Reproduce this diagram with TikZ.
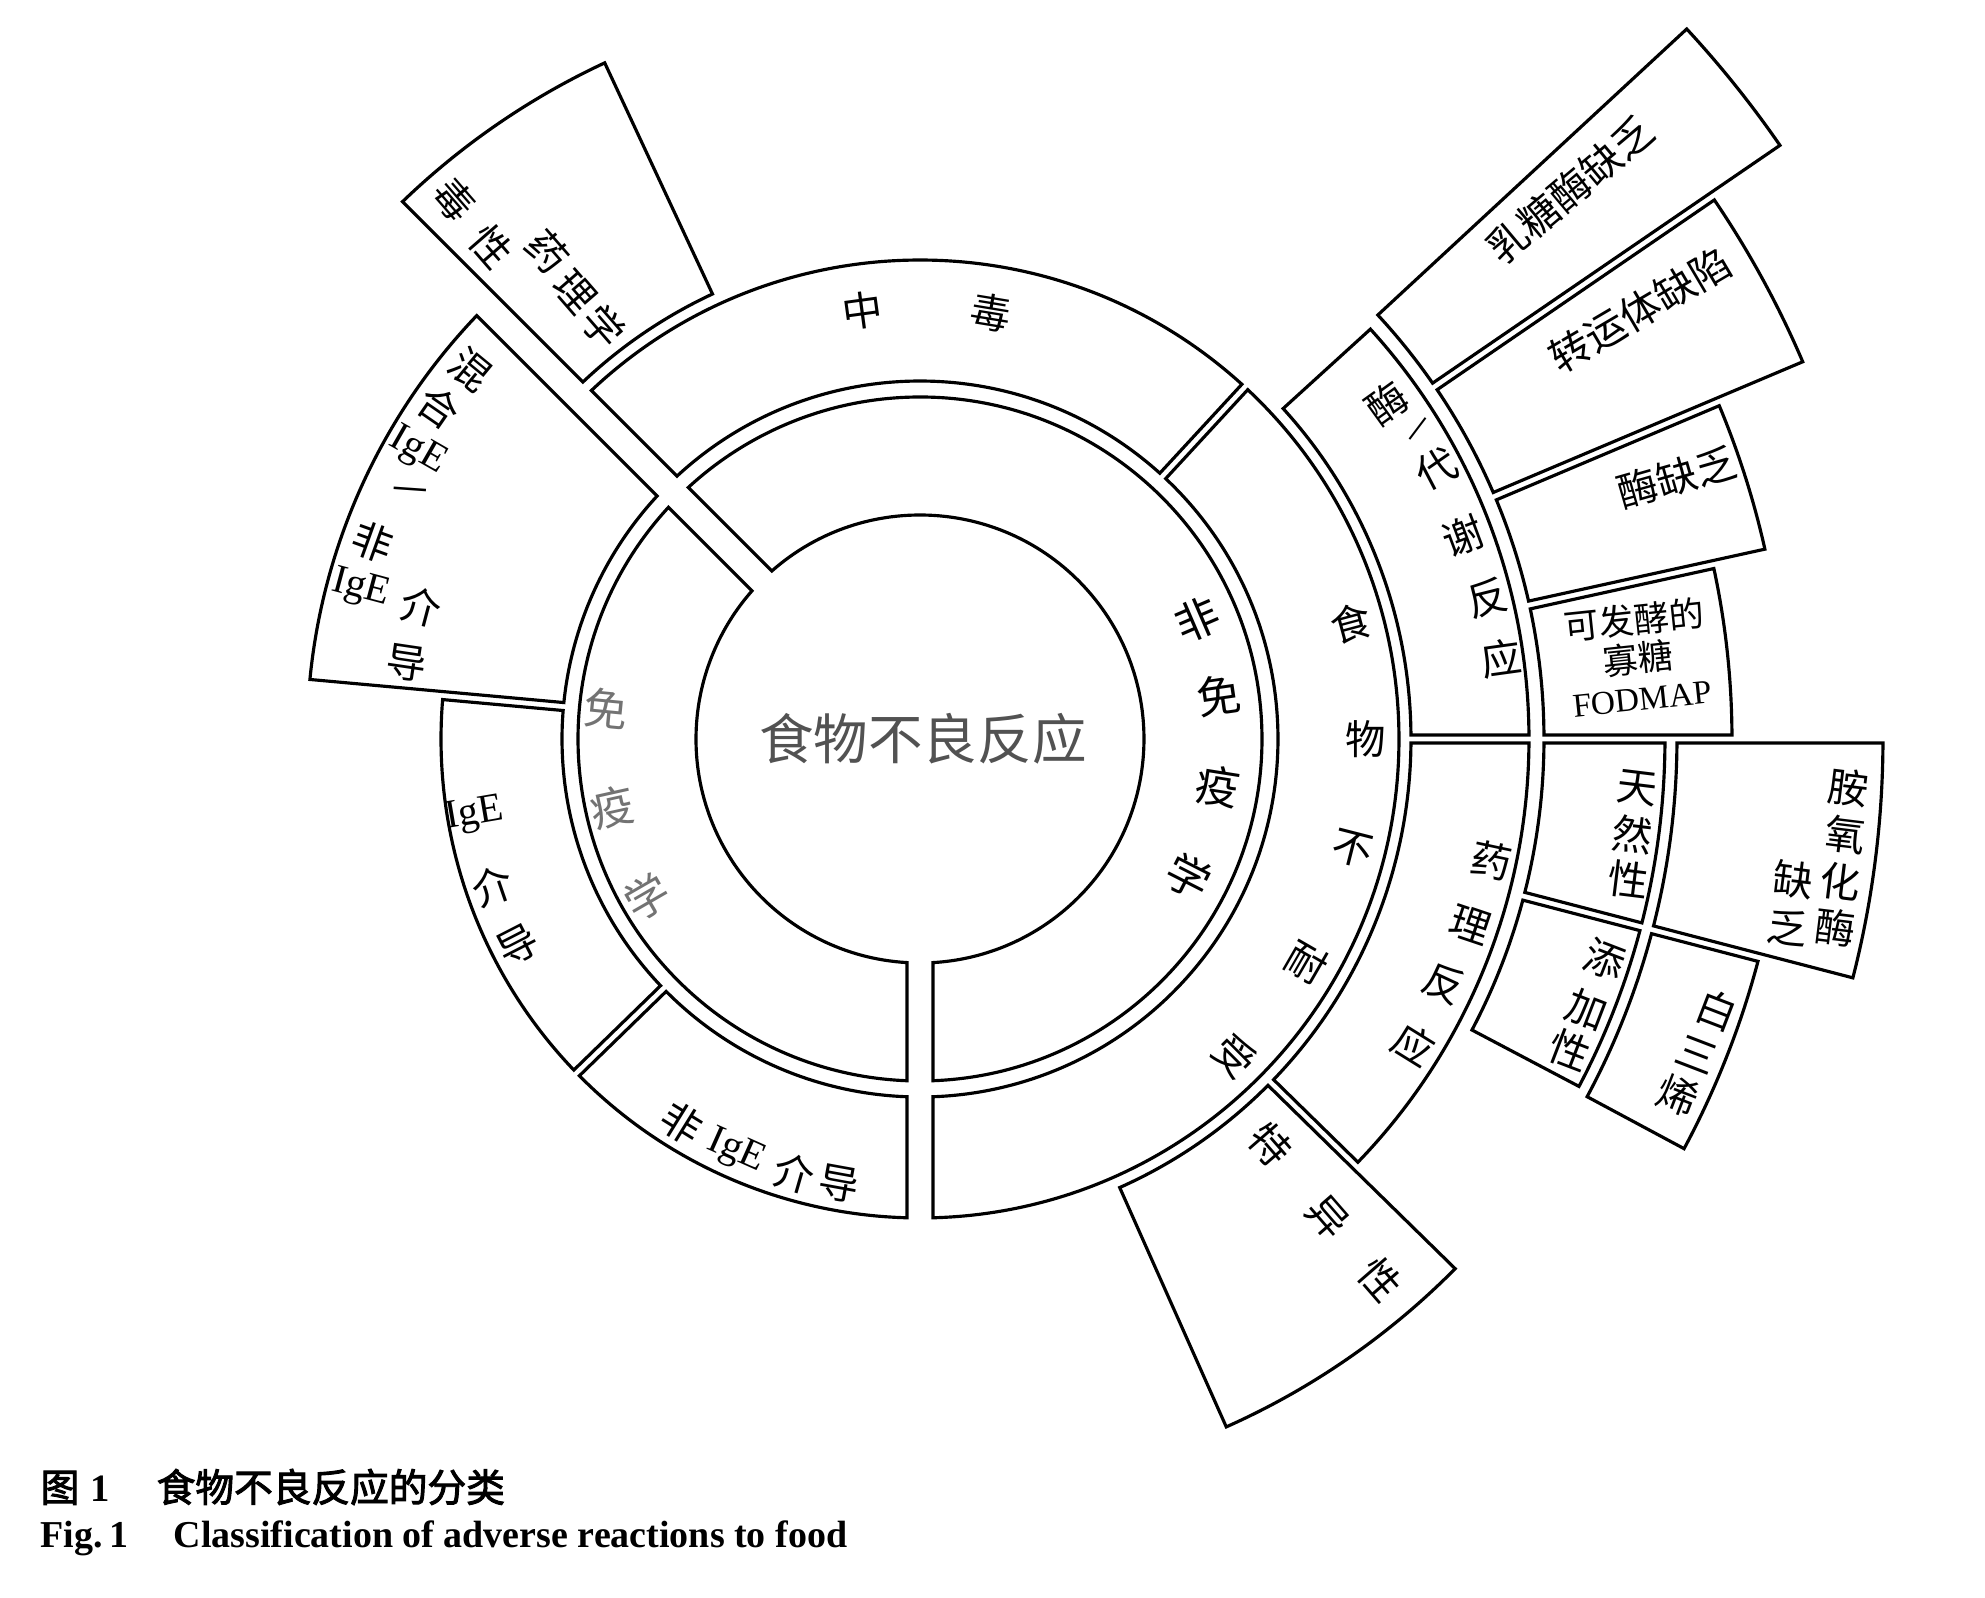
\documentclass[tikz,border=0pt]{standalone}
\usepackage{fontspec}
\setmainfont{Liberation Serif}
\newfontfamily\cjk{Noto Sans CJK SC}
\newfontfamily\cjkbold[AutoFakeBold=2.5]{Noto Sans CJK SC}

% ring segment: r_in, r_out, start angle, end angle, half gap at start, half gap at end
\newcommand{\ringseg}[6]{%
  \pgfmathsetmacro{\segA}{#3+asin(#5/#1)}%
  \pgfmathsetmacro{\segB}{#3+asin(#5/#2)}%
  \pgfmathsetmacro{\segC}{#4-asin(#6/#2)}%
  \pgfmathsetmacro{\segD}{#4-asin(#6/#1)}%
  \draw[seg] (\segA:#1) -- (\segB:#2) arc[start angle=\segB, end angle=\segC, radius=#2]
    -- (\segD:#1) arc[start angle=\segD, end angle=\segA, radius=#1] -- cycle;}

\begin{document}
\begin{tikzpicture}[x=0.01cm, y=0.01cm,
    seg/.style={draw=black, line width=0.9pt},
    lbl/.style={font=\cjk\fontsize{11.5}{13}\selectfont, inner sep=0pt},
    biglbl/.style={font=\cjk\fontsize{12.5}{14}\selectfont, inner sep=0pt}]
        \useasboundingbox (-920,-859) rectangle (1065,739);
        % Ring 1
        \ringseg{224}{342}{135}{270}{14}{13}
        \ringseg{224}{342}{-90}{135}{13}{14}
        % Ring 2
        \ringseg{358}{613}{135}{174.8}{14}{4}
        \ringseg{358}{479}{174.8}{224.2}{4}{4}
        \ringseg{358}{479}{224.2}{270}{4}{13}
        \ringseg{358}{479}{-90}{47.3}{13}{4}
        \ringseg{358}{479}{47.3}{135}{4}{14}
        % Ring 3
        \ringseg{491}{746}{115}{135}{0}{14}
        \ringseg{491}{609}{0}{42.3}{4}{0}
        \ringseg{491}{609}{-44.4}{0}{4}{4}
        \ringseg{491}{753}{-66}{-44.4}{0}{4}
        % Ring 4
        \ringseg{624}{812}{0}{12.4}{4}{4}
        \ringseg{624}{866}{12.4}{22.9}{4}{4}
        \ringseg{624}{960}{22.9}{34.4}{4}{4}
        \ringseg{624}{1045}{34.4}{42.8}{4}{0}
        \ringseg{624}{745}{-14.6}{0}{4}{4}
        \ringseg{624}{745}{-27.8}{-14.6}{0}{4}
        % Ring 5
        \ringseg{757}{963}{-14.6}{0}{4}{4}
        \ringseg{757}{867}{-28.2}{-14.6}{0}{4}
        % Labels
        \node [font=\cjk\fontsize{15.5}{18}\selectfont, text=black!68] (root) at (3,0) {食物不良反应};
        \foreach \c/\a [count=\i] in {免/174.5, 疫/192.5, 学/210}
                \node [biglbl, text=black!55, rotate=\a-180] (imm\i) at (\a:315) {\c};
        \foreach \c/\a [count=\i] in {非/23.3, 免/8.3, 疫/-9, 学/-27}
                \node [biglbl, rotate=\a] (nonimm\i) at (\a:302) {\c};
        \foreach \c/\a [count=\i] in {中/97.7, 毒/80.6}
                \node [lbl, rotate=\a-90] (poison\i) at (\a:432) {\c};
        \foreach \c/\a [count=\i] in {食/15, 物/0, 不/-14.3, 耐/-30, 受/-45.2}
                \node [lbl, rotate=\a] (intol\i) at (\a:446) {\c};
        \foreach \c/\a [count=\i] in {非/238.2, {\rmfamily IgE}/246, 介/253.9, 导/259.7}
                \node [lbl, rotate=\a+90] (nonige\i) at (\a:452) {\c};
        \foreach \c/\a [count=\i] in {{\rmfamily IgE}/189.7, 介/199, 导/207.2}
                \node [lbl, rotate=\a-180] (ige\i) at (\a:452) {\c};
        \foreach \c/\a/\r [count=\i] in {混/140.6/581, 合/145.4/584, {\rmfamily IgE}/150.2/579,
                非/160.2/582, {\rmfamily IgE}/165/579, 介/165.2/516, 导/171.6/519}
                \node [lbl, rotate=\a-180] (mixed\i) at (\a:\r) {\c};
        \node [lbl, rotate=-4] (mixeddash) at (154.4:566) {—};
        \foreach \c/\a/\r [count=\i] in {酶/35.7/575, 代/27.6/583, 谢/20.5/580, 反/14/585, 应/7.9/587}
                \node [lbl, rotate=\a] (enzyme\i) at (\a:\r) {\c};
        \node [font=\cjk\fontsize{9.5}{10}\selectfont, inner sep=0pt, rotate=53] (enzymedash) at (31.5:588) {—};
        \foreach \c/\a/\r [count=\i] in {药/-12/584, 理/-18.6/581, 反/-25/578, 应/-31.8/581}
                \node [lbl, rotate=\a] (pharm\i) at (\a:\r) {\c};
        \foreach \c/\x/\y [count=\i] in {毒/-466/539, 性/-429/492, 药/-373/487, 理/-345/447, 学/-316/412}
                \node [lbl, rotate=-49] (toxpharm\i) at (\x,\y) {\c};
        \foreach \c/\x/\y [count=\i] in {特/350/-406, 异/408/-478, 性/460/-541}
                \node [lbl, rotate=-49] (idio\i) at (\x,\y) {\c};
        \node [lbl, rotate=40] (lactase) at (650,549) {乳糖酶缺乏};
        \node [lbl, rotate=30.5] (transport) at (720,429) {转运体缺陷};
        \node [lbl, rotate=16] (enzdef) at (757,262) {酶缺乏};
        \node [font=\cjk\fontsize{10}{11}\selectfont, inner sep=0pt, rotate=6, align=center] (fodmap) at (718,82)
                {可发酵的\\寡糖\\{\rmfamily\fontsize{9.5}{10}\selectfont FODMAP}};
        \foreach \c/\x/\y [count=\i] in {天/717/-49, 然/712/-96, 性/708/-141}
                \node [lbl, rotate=-7] (natural\i) at (\x,\y) {\c};
        \foreach \c/\x/\y [count=\i] in {添/685/-221, 加/667/-271, 性/650/-311}
                \node [lbl, rotate=-21] (additive\i) at (\x,\y) {\c};
        \foreach \c/\x/\y [count=\i] in {胺/928/-49, 氧/925/-96, 化/920/-143, 酶/915/-189, 缺/873/-141, 乏/867/-189}
                \node [lbl, rotate=-7] (dao\i) at (\x,\y) {\c};
        \foreach \c/\x/\y [count=\i] in {白/797/-271, 三/777/-316, 烯/758/-356}
                \node [lbl, rotate=-21] (leuko\i) at (\x,\y) {\c};
        % Caption
        \node [anchor=west, inner sep=0pt, font=\cjkbold\bfseries\fontsize{11}{13}\selectfont] (cap1) at (-880,-748)
                {图\hspace{0.3em}{\rmfamily\bfseries 1}\hspace{1.2em}食物不良反应的分类};
        \node [anchor=west, inner sep=0pt, font=\rmfamily\bfseries\fontsize{10.8}{13}\selectfont] (cap2) at (-880,-799)
                {Fig.\,1\hspace{1.2em}Classification of adverse reactions to food};
\end{tikzpicture}
\end{document}
